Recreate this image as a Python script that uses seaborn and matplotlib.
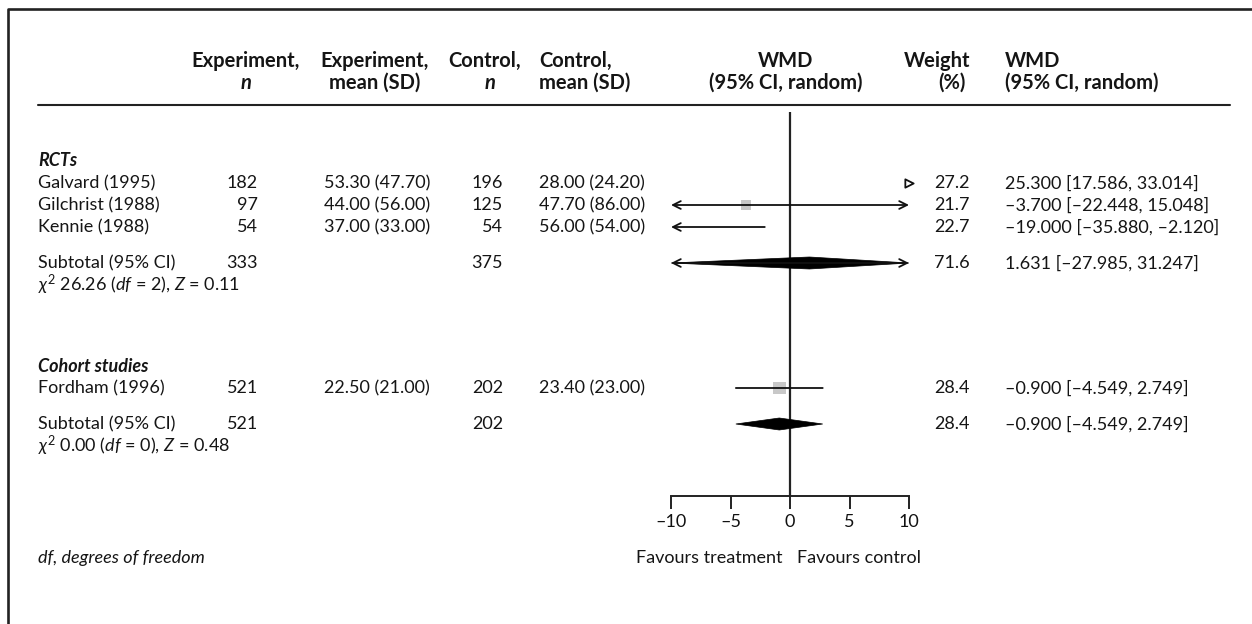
import matplotlib
matplotlib.use("Agg")
import matplotlib.pyplot as plt
import seaborn as sns
import pandas as pd
from matplotlib.patches import Polygon

sns.set_theme(style="white")
plt.rcParams['font.family'] = ['Lato', 'DejaVu Sans']
plt.rcParams['mathtext.fontset'] = 'custom'
plt.rcParams['mathtext.rm'] = 'Lato'
plt.rcParams['mathtext.it'] = 'Lato:italic'
plt.rcParams['mathtext.bf'] = 'Lato:bold'

# ---------------- data ----------------
groups = ["RCTs", "Cohort studies"]
studies = ["Galvard (1995)", "Gilchrist (1988)", "Kennie (1988)", "Fordham (1996)"]
exp_n = [182, 97, 54, 521]
exp_mean = [53.30, 44.00, 37.00, 22.50]
exp_sd = [47.70, 56.00, 33.00, 21.00]
ctrl_n = [196, 125, 54, 202]
ctrl_mean = [28.00, 47.70, 56.00, 23.40]
ctrl_sd = [24.20, 86.00, 54.00, 23.00]
wmd = [25.300, -3.700, -19.000, -0.900]
ci_lo = [17.586, -22.448, -35.880, -4.549]
ci_hi = [33.014, 15.048, -2.120, 2.749]
weight = [27.2, 21.7, 22.7, 28.4]

sub_exp_n = [333, 521]
sub_ctrl_n = [375, 202]
sub_wmd = [1.631, -0.900]
sub_lo = [-27.985, -4.549]
sub_hi = [31.247, 2.749]
sub_weight = [71.6, 28.4]
sub_chi2 = [26.26, 0.00]
sub_df = [2, 0]
sub_z = [0.11, 0.48]

xticks = [-10, -5, 0, 5, 10]
xlim = (-10, 10)

# ---------------- layout (pixel rows) ----------------
W, H = 1252, 624
group_y = [161, 366]
study_y = [183, 205, 227, 388]
sub_y = [263, 424]
chi_y = [285, 446]
AX_TOP, AX_BOT = 112, 496
X0_PX, X1_PX = 671, 909
LEFT = 38

fig = plt.figure(figsize=(W / 100, H / 100), dpi=100)
tax = fig.add_axes([0, 0, 1, 1])
tax.set_xlim(0, W)
tax.set_ylim(H, 0)
tax.axis('off')

fax = fig.add_axes([X0_PX / W, (H - AX_BOT) / H, (X1_PX - X0_PX) / W, (AX_BOT - AX_TOP) / H])
fax.set_xlim(*xlim)
fax.set_ylim(AX_BOT, AX_TOP)
fax.patch.set_alpha(0)
for s in ['top', 'right', 'left']:
    fax.spines[s].set_visible(False)
fax.spines['bottom'].set_color('#222222')
fax.spines['bottom'].set_linewidth(1.4)
fax.set_yticks([])
fax.set_xticks(xticks)
fax.set_xticklabels([str(t).replace('-', '–') for t in xticks], fontsize=13, color='#111111')
fax.tick_params(axis='x', direction='out', length=9, width=1.4, color='#222222', pad=4, bottom=True)

TXT = '#151515'
FS = 13
HFS = 14.5
LW = 1.3

def fmt(v, d):
    return f"{v:.{d}f}".replace('-', '–')

# border
tax.plot([8, 8, W + 5], [H + 5, 9, 9], color='#222222', lw=1.9)
# header rule
tax.plot([LEFT, 1230], [105, 105], color='#222222', lw=1.5)

# headers
hy1, hy2 = 61, 83
hk = dict(fontsize=HFS, fontweight='bold', color=TXT, va='center')
tax.text(246, hy1, "Experiment,", ha='center', **hk)
tax.text(246, hy2, "n", ha='center', style='italic', **hk)
tax.text(375, hy1, "Experiment,", ha='center', **hk)
tax.text(375, hy2, "mean (SD)", ha='center', **hk)
tax.text(485, hy1, "Control,", ha='center', **hk)
tax.text(490, hy2, "n", ha='center', style='italic', **hk)
tax.text(539, hy1, "Control,", ha='left', **hk)
tax.text(539, hy2, "mean (SD)", ha='left', **hk)
tax.text(786, hy1, "WMD", ha='center', **hk)
tax.text(786, hy2, "(95% CI, random)", ha='center', **hk)
tax.text(970, hy1, "Weight", ha='right', **hk)
tax.text(966, hy2, "(%)", ha='right', **hk)
tax.text(1005, hy1, "WMD", ha='left', **hk)
tax.text(1005, hy2, "(95% CI, random)", ha='left', **hk)

tk = dict(fontsize=FS, color=TXT, va='center')
for g, gy in zip(groups, group_y):
    tax.text(LEFT, gy, g, ha='left', fontweight='bold', style='italic', **tk)

NX, MX, CNX, CMX, WX, TX = 258, 324, 503, 539, 970, 1005
for i, name in enumerate(studies):
    y = study_y[i]
    tax.text(LEFT, y, name, ha='left', **tk)
    tax.text(NX, y, str(exp_n[i]), ha='right', **tk)
    tax.text(MX, y, f"{exp_mean[i]:.2f} ({exp_sd[i]:.2f})", ha='left', **tk)
    tax.text(CNX, y, str(ctrl_n[i]), ha='right', **tk)
    tax.text(CMX, y, f"{ctrl_mean[i]:.2f} ({ctrl_sd[i]:.2f})", ha='left', **tk)
    tax.text(WX, y, f"{weight[i]:.1f}", ha='right', **tk)
    tax.text(TX, y, f"{fmt(wmd[i], 3)} [{fmt(ci_lo[i], 3)}, {fmt(ci_hi[i], 3)}]", ha='left', **tk)

for j in range(len(groups)):
    y = sub_y[j]
    tax.text(LEFT, y, "Subtotal (95% CI)", ha='left', **tk)
    tax.text(NX, y, str(sub_exp_n[j]), ha='right', **tk)
    tax.text(CNX, y, str(sub_ctrl_n[j]), ha='right', **tk)
    tax.text(WX, y, f"{sub_weight[j]:.1f}", ha='right', **tk)
    tax.text(TX, y, f"{fmt(sub_wmd[j], 3)} [{fmt(sub_lo[j], 3)}, {fmt(sub_hi[j], 3)}]", ha='left', **tk)
    tax.text(LEFT, chi_y[j], rf"$\chi^2$ {sub_chi2[j]:.2f} ($df$ = {sub_df[j]}), $Z$ = {sub_z[j]:.2f}", ha='left', **tk)

tax.text(LEFT, 558, "df, degrees of freedom", ha='left', style='italic', **tk)
tax.text(782, 558, "Favours treatment", ha='right', **tk)
tax.text(797, 558, "Favours control", ha='left', **tk)

# ---------------- forest marks ----------------
fax.axvline(0, color='#222222', lw=1.6, zorder=1)

lo_lim, hi_lim = xlim
arrow_kw = dict(lw=LW, color='#111111', shrinkA=0, shrinkB=0, mutation_scale=14)
for i in range(len(studies)):
    y = study_y[i]
    lo, hi, m = ci_lo[i], ci_hi[i], wmd[i]
    if hi < lo_lim or lo > hi_lim:
        edge = hi_lim if lo > hi_lim else lo_lim
        sns.scatterplot(x=[edge], y=[y], marker='>' if edge > 0 else '<', s=36,
                        facecolor='white', edgecolor='#111111', linewidth=1.3, ax=fax,
                        legend=False, clip_on=False, zorder=4)
        continue
    a, b = max(lo, lo_lim), min(hi, hi_lim)
    la, rb = lo < lo_lim, hi > hi_lim
    style = '<->' if (la and rb) else ('<-' if la else ('->' if rb else '-'))
    fax.annotate('', xy=(b, y), xytext=(a, y),
                 arrowprops=dict(arrowstyle=style, **arrow_kw), annotation_clip=False, zorder=3)

# weight squares (visible ones only)
sq = pd.DataFrame({"wmd": wmd, "y": study_y, "w": weight})
sq = sq[(sq.wmd >= lo_lim) & (sq.wmd <= hi_lim)]
sns.scatterplot(data=sq, x="wmd", y="y", size="w", sizes=(50, 80), marker='s',
                color='#c8c8c8', edgecolor='none', ax=fax, legend=False, zorder=2)

# subtotal diamonds
for j in range(len(groups)):
    y = sub_y[j]
    lo, hi, m = sub_lo[j], sub_hi[j], sub_wmd[j]
    a, b = max(lo, lo_lim), min(hi, hi_lim)
    h = 6
    poly = Polygon([(a, y), (m, y - h), (b, y), (m, y + h)], closed=True,
                   facecolor='black', edgecolor='black', lw=0.5, zorder=3)
    fax.add_patch(poly)
    la, rb = lo < lo_lim, hi > hi_lim
    if la or rb:
        style = '<->' if (la and rb) else ('<-' if la else '->')
        fax.annotate('', xy=(b, y), xytext=(a, y),
                     arrowprops=dict(arrowstyle=style, **arrow_kw), annotation_clip=False, zorder=3)

fax.set_xlabel('')
fax.set_ylabel('')

fig.savefig("out.png", dpi=100)
